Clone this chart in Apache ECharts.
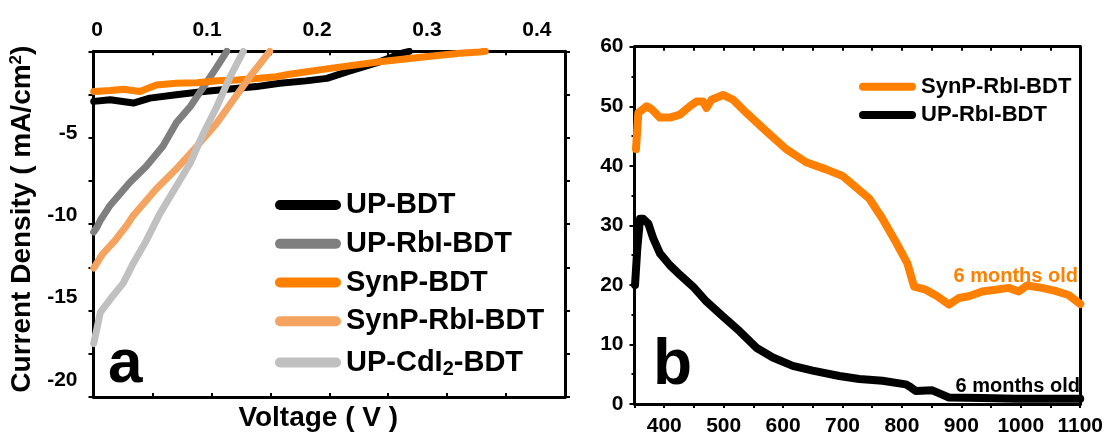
<!DOCTYPE html>
<html><head><meta charset="utf-8">
<script src="https://cdn.jsdelivr.net/npm/echarts@6/dist/echarts.min.js"></script>
<style>html,body{margin:0;padding:0;background:#fff}#c{width:1106px;height:437px}</style>
</head><body><div id="c"></div>
<script>
// ---------- Panel a : J-V curves ----------
const vTickLabels = [0, 0.1, 0.2, 0.3, 0.4];
const jTickLabels = [-5, -10, -15, -20];

const upBdtV = [-0.003, 0.012, 0.033, 0.048, 0.072, 0.097, 0.121, 0.145, 0.166, 0.19, 0.209, 0.227, 0.242, 0.257, 0.27, 0.278, 0.284];
const upBdtJ = [-3.05, -2.95, -3.15, -2.85, -2.65, -2.45, -2.3, -2.15, -1.95, -1.8, -1.65, -1.25, -0.95, -0.64, -0.3, -0.1, 0];

const upRbiV = [-0.003, 0.000, 0.003, 0.012, 0.030, 0.045, 0.060, 0.072, 0.085, 0.097, 0.109, 0.118];
const upRbiJ = [-11.0, -10.7, -10.3, -9.37, -7.97, -6.98, -5.77, -4.36, -3.35, -2.15, -0.95, 0];

const synpBdtV = [-0.003, 0.012, 0.024, 0.039, 0.054, 0.072, 0.091, 0.109, 0.127, 0.145, 0.163, 0.175, 0.212, 0.257, 0.303, 0.33, 0.348, 0.353];
const synpBdtJ = [-2.45, -2.39, -2.31, -2.45, -2.05, -1.95, -1.91, -1.79, -1.75, -1.65, -1.55, -1.4, -1.04, -0.64, -0.3, -0.12, -0.04, 0];

const synpRbiV = [-0.003, 0.005, 0.016, 0.027, 0.033, 0.054, 0.072, 0.091, 0.109, 0.124, 0.139, 0.157];
const synpRbiJ = [-13.2, -12.35, -11.55, -10.6, -10.0, -8.37, -7.17, -5.77, -4.36, -2.95, -1.55, 0];

const upCdiV = [-0.003, 0.003, 0.012, 0.024, 0.033, 0.045, 0.057, 0.069, 0.085, 0.097, 0.109, 0.121, 0.133];
const upCdiJ = [-17.8, -15.9, -15.1, -14.1, -12.9, -11.5, -9.9, -8.57, -6.77, -4.96, -3.36, -1.55, 0];

// ---------- Panel b : spectra ----------
const wlTickLabels = [400, 500, 600, 700, 800, 900, 1000, 1100];
const synpWl = [352.5, 356.4, 370.5, 378.9, 392.8, 409.6, 426.3, 443.1, 454.3, 465.4, 471.1, 479.5, 498.9, 515.7, 538.2, 571.7, 605.3, 638.8, 672.3, 700.2, 722.6, 744.9, 767.3, 789.7, 809.2, 820.4, 840, 859.5, 879.1, 895.8, 912.6, 935, 957.4, 979.7, 996.5, 1010.4, 1035.6, 1058, 1080.3, 1100];
const synpAbs = [42.8, 48.9, 50, 49.5, 48.1, 48.1, 48.6, 50, 50.8, 50.8, 49.7, 51.1, 51.9, 51.1, 48.9, 45.8, 42.8, 40.6, 39.4, 38.3, 36.4, 34.5, 31.1, 27.2, 23.6, 19.7, 19.2, 18.1, 16.7, 17.8, 18.1, 18.9, 19.2, 19.5, 18.9, 19.9, 19.5, 19, 18.3, 16.8];
const upWl = [350.9, 354.7, 359.3, 364.8, 373.2, 381.6, 392.8, 409.6, 426.3, 448.6, 471.1, 498.9, 527, 555, 582.8, 616.3, 649.9, 694.6, 728.2, 767.3, 806.5, 812, 823.3, 851.1, 865, 879.1, 935, 991, 1046.8, 1100];
const upAbs = [20, 26.1, 31.1, 31.1, 30.3, 27.8, 25.3, 23.3, 21.7, 19.7, 17.2, 14.7, 12.2, 9.45, 7.8, 6.4, 5.6, 4.7, 4.2, 3.9, 3.3, 3.0, 2.2, 2.3, 1.7, 1.1, 1.0, 0.9, 0.9, 0.9];

const FF = '"Liberation Sans", Arial, sans-serif';
const vMin = -0.0032, vMax = 0.4255, jMin = -21.05, jMax = 0;
const zip = (a, b) => a.map((x, i) => [x, b[i]]);
const even = (lo, hi, n) => Array.from({length: n + 1}, (_, i) => lo + (hi - lo) * i / n);
const lbl = {fontFamily: FF, fontWeight: 'bold', fontSize: 21, color: '#000'};
const axLine = {show: true, onZero: false, lineStyle: {color: '#000', width: 3}};
const tickLs = {color: '#000', width: 2};

const chart = echarts.init(document.getElementById('c'), null, {renderer: 'canvas'});
const line = (name, xs, ys, color, xi, yi, w) => ({
  name, type: 'line', xAxisIndex: xi, yAxisIndex: yi, data: zip(xs, ys), symbol: 'none', showSymbol: false,
  color, lineStyle: {color, width: w, join: 'round', cap: 'round'}, clip: true, silent: true
});

chart.setOption({
  animation: false,
  backgroundColor: '#fff',
  grid: [
    {left: 93.5, top: 51.3, width: 471.5, height: 349.4},
    {left: 634.5, top: 46.7, width: 446.5, height: 360}
  ],
  xAxis: [
    {gridIndex: 0, type: 'value', position: 'top', min: vMin, max: vMax, axisLine: axLine,
     axisTick: {show: true, inside: true, length: 4, lineStyle: tickLs, customValues: even(vMin, vMax, 8)},
     axisLabel: Object.assign({margin: 11, customValues: vTickLabels, formatter: v => String(v)}, lbl),
     splitLine: {show: false}},
    {gridIndex: 0, type: 'value', position: 'bottom', min: vMin, max: vMax, axisLine: axLine,
     axisTick: {show: true, inside: true, length: 4, lineStyle: tickLs, customValues: even(vMin, vMax, 8)},
     axisLabel: {show: false}, splitLine: {show: false},
     name: 'Voltage ( V )', nameLocation: 'middle', nameGap: 7,
     nameTextStyle: {fontFamily: FF, fontWeight: 'bold', fontSize: 28, color: '#000', padding: [0, 22, 0, 0]}},
    {gridIndex: 1, type: 'value', position: 'bottom', min: 350, max: 1100, interval: 50, axisLine: axLine,
     axisTick: {show: true, inside: false, length: 4, lineStyle: tickLs},
     axisLabel: Object.assign({margin: 12, customValues: wlTickLabels, formatter: v => String(v)}, lbl), splitLine: {show: false}},
    {gridIndex: 1, type: 'value', position: 'top', min: 350, max: 1100, interval: 50, axisLine: axLine,
     axisTick: {show: true, inside: true, length: 4, lineStyle: tickLs},
     axisLabel: {show: false}, splitLine: {show: false}}
  ],
  yAxis: [
    {gridIndex: 0, type: 'value', position: 'left', min: jMin, max: jMax, axisLine: axLine,
     axisTick: {show: true, inside: false, length: 5, lineStyle: tickLs, customValues: even(jMin, jMax, 8)},
     axisLabel: Object.assign({margin: 16, customValues: jTickLabels, formatter: v => String(v)}, lbl), splitLine: {show: false},
     name: '{t|Current Density ( mA/cm}{p|2}{t|)}', nameLocation: 'middle', nameGap: 57, nameRotate: 90,
     nameTextStyle: {fontFamily: FF, fontWeight: 'bold', fontSize: 28, color: '#000', padding: [0, 0, 0, 10],
       rich: {t: {fontFamily: FF, fontWeight: 'bold', fontSize: 28, color: '#000'},
              p: {fontFamily: FF, fontWeight: 'bold', fontSize: 17, color: '#000', padding: [0, 0, 12, 0]}}}},
    {gridIndex: 0, type: 'value', position: 'right', min: jMin, max: jMax, axisLine: axLine,
     axisTick: {show: true, inside: false, length: 5, lineStyle: tickLs, customValues: even(jMin, jMax, 8)},
     axisLabel: {show: false}, splitLine: {show: false}},
    {gridIndex: 1, type: 'value', position: 'left', min: 0, max: 60, interval: 10, axisLine: axLine,
     axisTick: {show: true, inside: false, length: 5, lineStyle: tickLs},
     minorTick: {show: true, splitNumber: 2, length: 3, lineStyle: tickLs},
     axisLabel: Object.assign({margin: 11}, lbl), splitLine: {show: false}},
    {gridIndex: 1, type: 'value', position: 'right', min: 0, max: 60, axisLine: axLine,
     axisTick: {show: false}, axisLabel: {show: false}, splitLine: {show: false}}
  ],
  legend: [
    {data: ['UP-BDT', 'UP-RbI-BDT', 'SynP-BDT', 'SynP-RbI-BDT', 'UP-CdI2-BDT'], orient: 'vertical',
     left: 270, top: 185.5, itemWidth: 66, itemHeight: 10, itemGap: 9.75, selectedMode: false,
     icon: 'path://M5 0H61A5 5 0 0 1 61 10H5A5 5 0 0 1 5 0Z',
     formatter: n => n === 'UP-CdI2-BDT' ? '{a|UP-CdI}{s|2}{a|-BDT}' : n,
     textStyle: {fontFamily: FF, fontWeight: 'bold', fontSize: 29, lineHeight: 29, color: '#000',
       rich: {a: {fontFamily: FF, fontWeight: 'bold', fontSize: 29, lineHeight: 29, color: '#000'},
              s: {fontFamily: FF, fontWeight: 'bold', fontSize: 20, lineHeight: 20, color: '#000', padding: [14, 0, 0, 0]}}}},
    {data: ['SynP-RbI-BDT (b)', 'UP-RbI-BDT (b)'], orient: 'vertical',
     left: 854, top: 70.7, itemWidth: 57, itemHeight: 8, itemGap: 6.3, selectedMode: false,
     icon: 'path://M4 0H53A4 4 0 0 1 53 8H4A4 4 0 0 1 4 0Z',
     formatter: n => n.replace(' (b)', ''),
     textStyle: {fontFamily: FF, fontWeight: 'bold', fontSize: 22, lineHeight: 22, color: '#000'}}
  ],
  series: [
    line('UP-BDT', upBdtV, upBdtJ, '#000000', 0, 0, 7),
    line('UP-RbI-BDT', upRbiV, upRbiJ, '#7f7f7f', 0, 0, 7),
    line('SynP-BDT', synpBdtV, synpBdtJ, '#ff8000', 0, 0, 7),
    line('SynP-RbI-BDT', synpRbiV, synpRbiJ, '#f4a460', 0, 0, 7),
    line('UP-CdI2-BDT', upCdiV, upCdiJ, '#c0c0c0', 0, 0, 7),
    line('SynP-RbI-BDT (b)', synpWl, synpAbs, '#ff8000', 2, 2, 8),
    line('UP-RbI-BDT (b)', upWl, upAbs, '#000000', 2, 2, 8)
  ],
  graphic: [
    {type: 'text', silent: true, style: {text: 'a', x: 108, y: 365, fill: '#000', font: 'bold 62px ' + FF, align: 'left', verticalAlign: 'middle'}},
    {type: 'text', silent: true, style: {text: 'b', x: 653, y: 366, fill: '#000', font: 'bold 64px ' + FF, align: 'left', verticalAlign: 'middle'}},
    {type: 'text', silent: true, style: {text: '6 months old', x: 1078, y: 276.4, fill: '#ff8000', font: 'bold 20px ' + FF, align: 'right', verticalAlign: 'middle'}},
    {type: 'text', silent: true, style: {text: '6 months old', x: 1080, y: 386.4, fill: '#000', font: 'bold 20px ' + FF, align: 'right', verticalAlign: 'middle'}}
  ]
});
</script></body></html>
